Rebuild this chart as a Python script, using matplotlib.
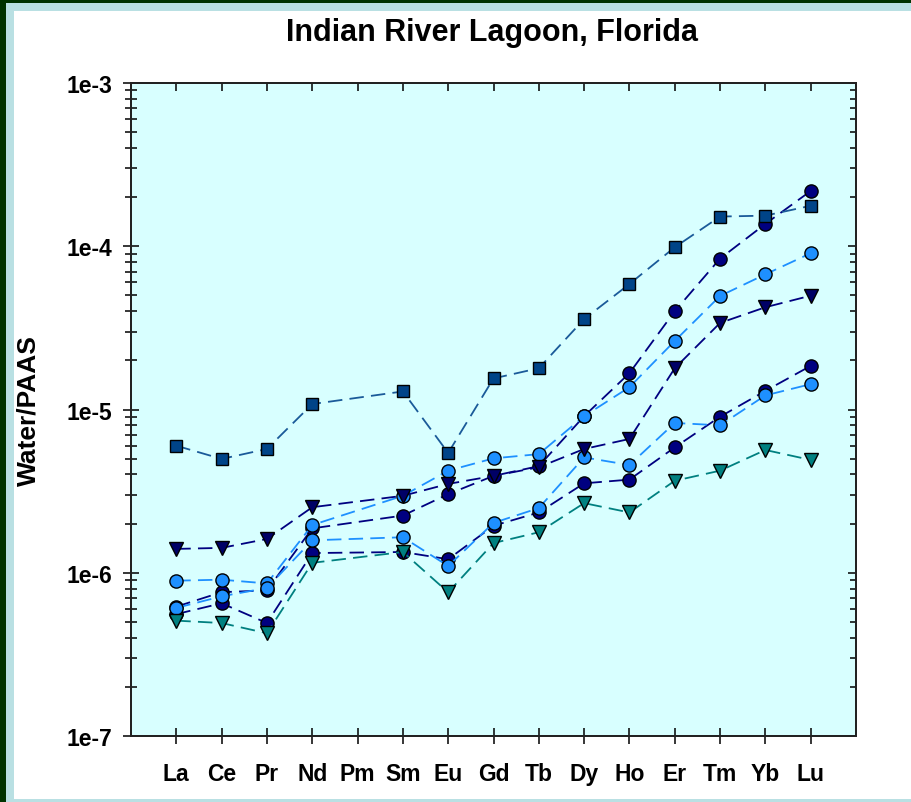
import numpy as np
import matplotlib
matplotlib.use('Agg')
import matplotlib.pyplot as plt
from matplotlib.patches import Rectangle
from matplotlib.ticker import LogLocator, NullFormatter, FixedLocator

plt.rcParams['font.family'] = ['Liberation Sans', 'DejaVu Sans']
plt.rcParams['font.weight'] = 'bold'

# rare earth elements, Pm has no data
elements = ['La', 'Ce', 'Pr', 'Nd', 'Pm', 'Sm', 'Eu', 'Gd', 'Tb', 'Dy', 'Ho', 'Er', 'Tm', 'Yb', 'Lu']
nan = np.nan

navy_circ_a = [6.2e-7, 7.6e-7, 7.8e-7, 1.87e-6, nan, 2.24e-6, 3.03e-6, 3.92e-6, 4.5e-6, 9.1e-6,
               1.67e-5, 4.0e-5, 8.4e-5, 1.37e-4, 2.18e-4]
navy_circ_b = [5.58e-7, 6.5e-7, 4.92e-7, 1.32e-6, nan, 1.34e-6, 1.21e-6, 1.94e-6, 2.34e-6, 3.53e-6,
               3.72e-6, 5.86e-6, 9.03e-6, 1.30e-5, 1.85e-5]
blue_circ_a = [8.94e-7, 9.07e-7, 8.6e-7, 1.96e-6, nan, 2.96e-6, 4.22e-6, 5.02e-6, 5.33e-6, 9.1e-6,
               1.37e-5, 2.63e-5, 4.96e-5, 6.73e-5, 9.06e-5]
blue_circ_b = [6.09e-7, 7.17e-7, 8.07e-7, 1.58e-6, nan, 1.65e-6, 1.10e-6, 2.02e-6, 2.49e-6, 5.09e-6,
               4.57e-6, 8.27e-6, 8.0e-6, 1.22e-5, 1.43e-5]
teal_tri = [5.09e-7, 4.92e-7, 4.26e-7, 1.15e-6, nan, 1.34e-6, 7.59e-7, 1.52e-6, 1.77e-6, 2.67e-6,
            2.34e-6, 3.66e-6, 4.22e-6, 5.65e-6, 4.91e-6]
navy_tri = [1.40e-6, 1.42e-6, 1.61e-6, 2.52e-6, nan, 2.96e-6, 3.5e-6, 3.92e-6, 4.43e-6, 5.73e-6,
            6.6e-6, 1.79e-5, 3.39e-5, 4.23e-5, 4.98e-5]
squares = [6.0e-6, 4.98e-6, 5.73e-6, 1.08e-5, nan, 1.29e-5, 5.42e-6, 1.55e-5, 1.79e-5, 3.58e-5,
           5.87e-5, 9.86e-5, 1.52e-4, 1.54e-4, 1.77e-4]

W, H = 911, 803
fig = plt.figure(figsize=(W / 100, H / 100), dpi=100, facecolor='#003300')

# frame: dark green edge, pale band, white page (behind the axes)
fig.patches.append(Rectangle((6 / W, 0), 1, 1 - 4 / H, transform=fig.transFigure,
                             facecolor='#b9e0e3', edgecolor='none', zorder=-2))
fig.patches.append(Rectangle((14 / W, 3 / H), 1, 1 - 15 / H, transform=fig.transFigure,
                             facecolor='white', edgecolor='none', zorder=-1))

ax = fig.add_axes([131 / W, 1 - 737 / H, (856 - 131) / W, (737 - 84) / H])
ax.set_facecolor('#d8ffff')

x = np.arange(len(elements))


def draw(vals, marker, face, line, ms, z):
    v = np.array(vals)
    ok = ~np.isnan(v)
    ax.plot(x[ok], v[ok], linestyle=(0, (8, 4)), lw=1.3, color=line, marker=marker,
            markersize=ms, markerfacecolor=face, markeredgecolor='black',
            markeredgewidth=1.0, zorder=z)


draw(navy_circ_a, 'o', '#000080', '#000080', 9.5, 3)
draw(navy_circ_b, 'o', '#000080', '#000080', 9.5, 3)
draw(blue_circ_a, 'o', '#1e90ff', '#1e90ff', 9.5, 4)
draw(blue_circ_b, 'o', '#1e90ff', '#1e90ff', 9.5, 4)
draw(teal_tri, 'v', '#008080', '#008080', 10, 5)
draw(navy_tri, 'v', '#000066', '#000080', 10, 5)
draw(squares, 's', '#004488', '#1a5a99', 9, 6)

ax.set_yscale('log')
ax.set_ylim(1e-7, 1e-3)
ax.set_xlim(-1, 15)
ax.set_xticks(x)
ax.set_xticklabels(elements)
ax.yaxis.set_minor_locator(LogLocator(base=10, subs=np.arange(2, 10), numticks=10))
ax.yaxis.set_minor_formatter(NullFormatter())
ax.set_yticks([1e-7, 1e-6, 1e-5, 1e-4, 1e-3])
ax.set_yticklabels(['1e-7', '1e-6', '1e-5', '1e-4', '1e-3'])

ax.tick_params(axis='both', which='major', direction='inout', length=11, width=1.1,
               labelsize=16.5, color='black')
ax.tick_params(axis='y', which='minor', direction='inout', length=8, width=1.1)
ax.tick_params(axis='x', which='major', pad=13)
ax.tick_params(axis='y', which='major', pad=8)
for lab in ax.get_xticklabels() + ax.get_yticklabels():
    lab.set_fontweight('bold')
for s in ax.spines.values():
    s.set_linewidth(1.3)
    s.set_color('#222222')

# inward ticks on right and top
axr = ax.twinx()
axr.set_yscale('log')
axr.set_ylim(1e-7, 1e-3)
axr.yaxis.set_minor_locator(LogLocator(base=10, subs=np.arange(2, 10), numticks=10))
axr.tick_params(axis='y', which='major', direction='in', length=6, width=1.1, labelright=False)
axr.tick_params(axis='y', which='minor', direction='in', length=4, width=1.1)
axt = ax.twiny()
axt.set_xlim(-1, 15)
axt.xaxis.set_major_locator(FixedLocator(x))
axt.tick_params(axis='x', which='major', direction='in', length=5.5, width=1.1, labeltop=False)
for a in (axr, axt):
    for s in a.spines.values():
        s.set_linewidth(1.3)
        s.set_color('#222222')

ax.set_ylabel('Water/PAAS', fontsize=19, fontweight='bold')
ax.yaxis.set_label_coords(-0.1255, 0.5)

fig.text(492.5 / W, 1 - 41 / H, 'Indian River Lagoon, Florida', ha='center', va='baseline',
         fontsize=22, fontweight='bold')

fig.savefig('out.png', dpi=100, facecolor=fig.get_facecolor())
